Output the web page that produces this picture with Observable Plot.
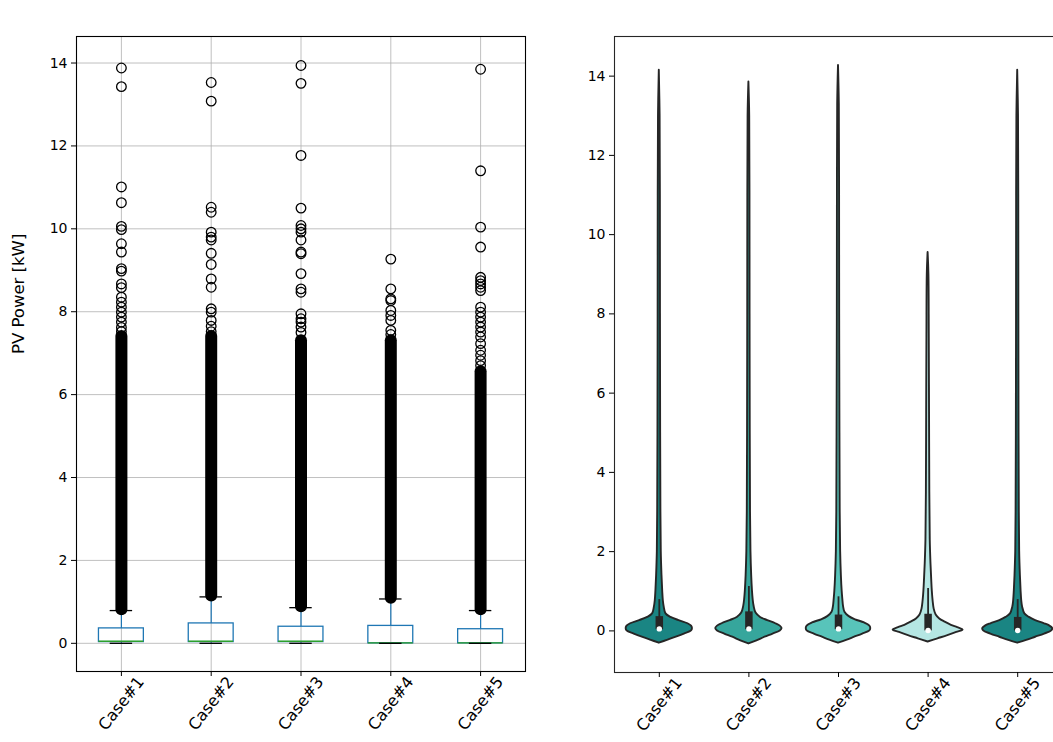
<!DOCTYPE html>
<html><head><meta charset="utf-8">
<script src="https://cdn.jsdelivr.net/npm/d3@7"></script>
<script src="https://cdn.jsdelivr.net/npm/@observablehq/plot@0.6"></script>
<style>
html,body{margin:0;padding:0;background:#fff;overflow:hidden;width:1053px;height:742px;}
#wrap{position:relative;width:1053px;height:742px;overflow:hidden;font-family:"DejaVu Sans",sans-serif;color:#000;}
.title{position:absolute;top:7px;font-size:16.5px;line-height:20px;text-align:center;white-space:nowrap;}
#left{position:absolute;left:0;top:0;width:540px;height:742px;}
#right{position:absolute;left:540px;top:0;width:530px;height:742px;}
svg{max-width:none !important;}
</style></head><body>
<div id="wrap">
  <div class="title" style="left:200px;width:201px;">a) Boxplot</div>
  <div class="title" style="left:738px;width:200px;">b) Violin Plot</div>
  <div id="left"></div>
  <div id="right"></div>
</div>
<script>
// ---------- data ----------
const cases = ["Case#1", "Case#2", "Case#3", "Case#4", "Case#5"];
const yTicks = [0, 2, 4, 6, 8, 10, 12, 14];

// boxplot statistics (kW)
const boxQ1 = [0.03, 0.03, 0.03, 0.0, 0.0];
const boxMedian = [0.05, 0.05, 0.05, 0.01, 0.01];
const boxQ3 = [0.36, 0.48, 0.40, 0.42, 0.34];
const whiskerLow = [0, 0, 0, 0, 0];
const whiskerHigh = [0.79, 1.12, 0.86, 1.07, 0.79];
// top of the solid stack of outlier circles
const denseTop = [7.4, 7.4, 7.3, 7.3, 6.55];

// individually visible outliers
const fliers1 = [13.88, 13.43, 11.01, 10.63, 10.06, 9.98, 9.64, 9.44, 9.04, 8.98, 8.67, 8.58, 8.35, 8.23, 8.11, 7.99, 7.87, 7.75, 7.62, 7.52];
const fliers2 = [13.53, 13.08, 10.52, 10.40, 9.92, 9.80, 9.73, 9.41, 9.14, 8.79, 8.59, 8.07, 7.99, 7.79, 7.65, 7.52];
const fliers3 = [13.94, 13.51, 11.77, 10.50, 10.08, 10.00, 9.92, 9.73, 9.44, 9.40, 8.92, 8.55, 8.47, 7.95, 7.83, 7.75, 7.63, 7.50];
const fliers4 = [9.27, 8.55, 8.31, 8.27, 8.03, 7.91, 7.79, 7.55, 7.45];
const fliers5 = [13.85, 11.40, 10.04, 9.56, 8.83, 8.75, 8.67, 8.59, 8.51, 8.11, 7.99, 7.87, 7.75, 7.63, 7.51, 7.39, 7.23, 7.07, 6.95, 6.82, 6.70];

// violin outlines: value (kW) and half-width (fraction of category spacing)
const violin1Y = [-0.31, -0.24, -0.16, -0.08, 0.0, 0.06, 0.12, 0.18, 0.26, 0.34, 0.43, 0.60, 0.76, 1.0, 1.4, 2.0, 3.0, 5.0, 8.0, 11.0, 13.0, 14.15];
const violin1W = [0, 0.09, 0.19, 0.28, 0.36, 0.37, 0.36, 0.32, 0.22, 0.13, 0.075, 0.055, 0.045, 0.038, 0.03, 0.022, 0.018, 0.015, 0.013, 0.012, 0.009, 0];
const violin2Y = [-0.33, -0.25, -0.16, -0.08, 0.0, 0.06, 0.12, 0.18, 0.26, 0.34, 0.45, 0.62, 0.80, 1.0, 1.4, 2.0, 3.0, 5.0, 8.0, 11.0, 13.0, 13.85];
const violin2W = [0, 0.09, 0.18, 0.27, 0.35, 0.37, 0.35, 0.30, 0.21, 0.13, 0.08, 0.058, 0.047, 0.04, 0.031, 0.023, 0.018, 0.015, 0.013, 0.012, 0.009, 0];
const violin3Y = [-0.31, -0.24, -0.16, -0.08, 0.0, 0.06, 0.12, 0.20, 0.28, 0.36, 0.47, 0.62, 0.80, 1.0, 1.4, 2.0, 3.0, 5.0, 8.0, 11.0, 13.3, 14.27];
const violin3W = [0, 0.09, 0.18, 0.27, 0.35, 0.36, 0.35, 0.29, 0.19, 0.12, 0.072, 0.056, 0.048, 0.041, 0.032, 0.024, 0.019, 0.016, 0.013, 0.012, 0.009, 0];
const violin4Y = [-0.28, -0.20, -0.12, -0.04, 0.02, 0.08, 0.14, 0.22, 0.30, 0.40, 0.55, 0.75, 1.0, 1.3, 1.7, 2.3, 3.5, 5.5, 7.5, 9.0, 9.55];
const violin4W = [0, 0.11, 0.22, 0.32, 0.39, 0.33, 0.26, 0.19, 0.13, 0.09, 0.068, 0.056, 0.047, 0.04, 0.032, 0.024, 0.019, 0.016, 0.013, 0.009, 0];
const violin5Y = [-0.31, -0.24, -0.16, -0.08, 0.0, 0.06, 0.12, 0.18, 0.26, 0.34, 0.43, 0.60, 0.76, 1.0, 1.4, 2.0, 3.0, 5.0, 8.0, 11.0, 13.0, 14.15];
const violin5W = [0, 0.10, 0.20, 0.30, 0.38, 0.39, 0.36, 0.30, 0.20, 0.13, 0.08, 0.055, 0.045, 0.038, 0.03, 0.022, 0.018, 0.015, 0.013, 0.012, 0.009, 0];
const violinColors = ["#1a8583", "#36a69c", "#58c4ba", "#b5e6e3", "#1a8583"];

// ---------- build tables ----------
const boxTable = cases.map((c, i) => ({
  pos: i + 1, q1: boxQ1[i], med: boxMedian[i], q3: boxQ3[i],
  wlo: whiskerLow[i], whi: whiskerHigh[i], dense: denseTop[i]
}));
const flierLists = [fliers1, fliers2, fliers3, fliers4, fliers5];
const fliers = flierLists.flatMap((arr, i) => arr.map(v => ({pos: i + 1, v})));
const vY = [violin1Y, violin2Y, violin3Y, violin4Y, violin5Y];
const vW = [violin1W, violin2W, violin3W, violin4W, violin5W];
const inner = cases.map((c, i) => ({
  pos: i, q1: boxQ1[i], med: boxMedian[i], q3: boxQ3[i], wlo: whiskerLow[i], whi: whiskerHigh[i]
}));

const font = {fontFamily: "DejaVu Sans, sans-serif", fontSize: "14px", color: "#000", background: "white", overflow: "visible", maxWidth: "none"};
const grid = {stroke: "#b0b0b0", strokeOpacity: 1, strokeWidth: 0.8};
const xLabelOpts = {tickSize: 5, tickRotate: -52, textAnchor: "middle", lineAnchor: "middle", tickPadding: 27, fontSize: 16, label: null};

// ---------- left: boxplot ----------
const left = Plot.plot({
  width: 540, height: 742,
  marginLeft: 76, marginRight: 15, marginTop: 36, marginBottom: 71,
  x: {domain: [0.5, 5.5], axis: null},
  y: {domain: [-0.68, 14.64], axis: null},
  style: font,
  marks: [
    Plot.gridY(yTicks, grid),
    Plot.gridX([1, 2, 3, 4, 5], grid),
    Plot.ruleX(boxTable, {x: "pos", y1: "q3", y2: "whi", stroke: "#1f77b4", strokeWidth: 1.2}),
    Plot.ruleX(boxTable, {x: "pos", y1: "wlo", y2: "q1", stroke: "#1f77b4", strokeWidth: 1.2}),
    Plot.rect(boxTable, {x1: d => d.pos - 0.25, x2: d => d.pos + 0.25, y1: "q1", y2: "q3", fill: "none", stroke: "#1f77b4", strokeWidth: 1.3}),
    Plot.ruleY(boxTable, {y: "med", x1: d => d.pos - 0.25, x2: d => d.pos + 0.25, stroke: "#2ca02c", strokeWidth: 1.3}),
    Plot.ruleY(boxTable, {y: "whi", x1: d => d.pos - 0.125, x2: d => d.pos + 0.125, stroke: "black", strokeWidth: 1.3}),
    Plot.ruleY(boxTable, {y: "wlo", x1: d => d.pos - 0.125, x2: d => d.pos + 0.125, stroke: "black", strokeWidth: 1.3}),
    Plot.ruleX(boxTable, {x: "pos", y1: d => d.whi + 0.02, y2: "dense", stroke: "black", strokeWidth: 12, strokeLinecap: "round"}),
    Plot.dot(fliers, {x: "pos", y: "v", r: 4.8, stroke: "black", strokeWidth: 1.3, fill: "none"}),
    Plot.frame({stroke: "black", strokeWidth: 1.1}),
    Plot.axisY(yTicks, {tickSize: 5, tickPadding: 4, fontSize: 14, label: null}),
    Plot.axisX([1, 2, 3, 4, 5], {...xLabelOpts, tickFormat: i => cases[i - 1]}),
    Plot.text(["PV Power [kW]"], {frameAnchor: "left", dx: -58, rotate: -90, fontSize: 16.5})
  ]
});
document.getElementById("left").appendChild(left);

// ---------- right: violin plot ----------
const violinMarks = cases.map((c, i) =>
  Plot.areaX(vY[i].map((y, k) => ({y, w: vW[i][k]})), {
    y: "y", x1: d => i - d.w, x2: d => i + d.w,
    fill: violinColors[i], stroke: "#262626", strokeWidth: 1.9, curve: "catmull-rom"
  })
);
const right = Plot.plot({
  width: 530, height: 742,
  marginLeft: 74, marginRight: 8, marginTop: 36, marginBottom: 70,
  x: {domain: [-0.5, 4.5], axis: null},
  y: {domain: [-1.05, 15.0], axis: null},
  style: font,
  marks: [
    ...violinMarks,
    Plot.ruleX(inner, {x: "pos", y1: "wlo", y2: "whi", stroke: "#262626", strokeWidth: 1.8}),
    Plot.ruleX(inner, {x: "pos", y1: "q1", y2: "q3", stroke: "#262626", strokeWidth: 7.5}),
    Plot.dot(inner, {x: "pos", y: "med", r: 2.7, fill: "white"}),
    Plot.frame({stroke: "#262626", strokeWidth: 1.1}),
    Plot.axisY(yTicks, {tickSize: 5, tickPadding: 4, fontSize: 14, label: null}),
    Plot.axisX([0, 1, 2, 3, 4], {...xLabelOpts, tickFormat: i => cases[i]})
  ]
});
document.getElementById("right").appendChild(right);
</script>
</body></html>
